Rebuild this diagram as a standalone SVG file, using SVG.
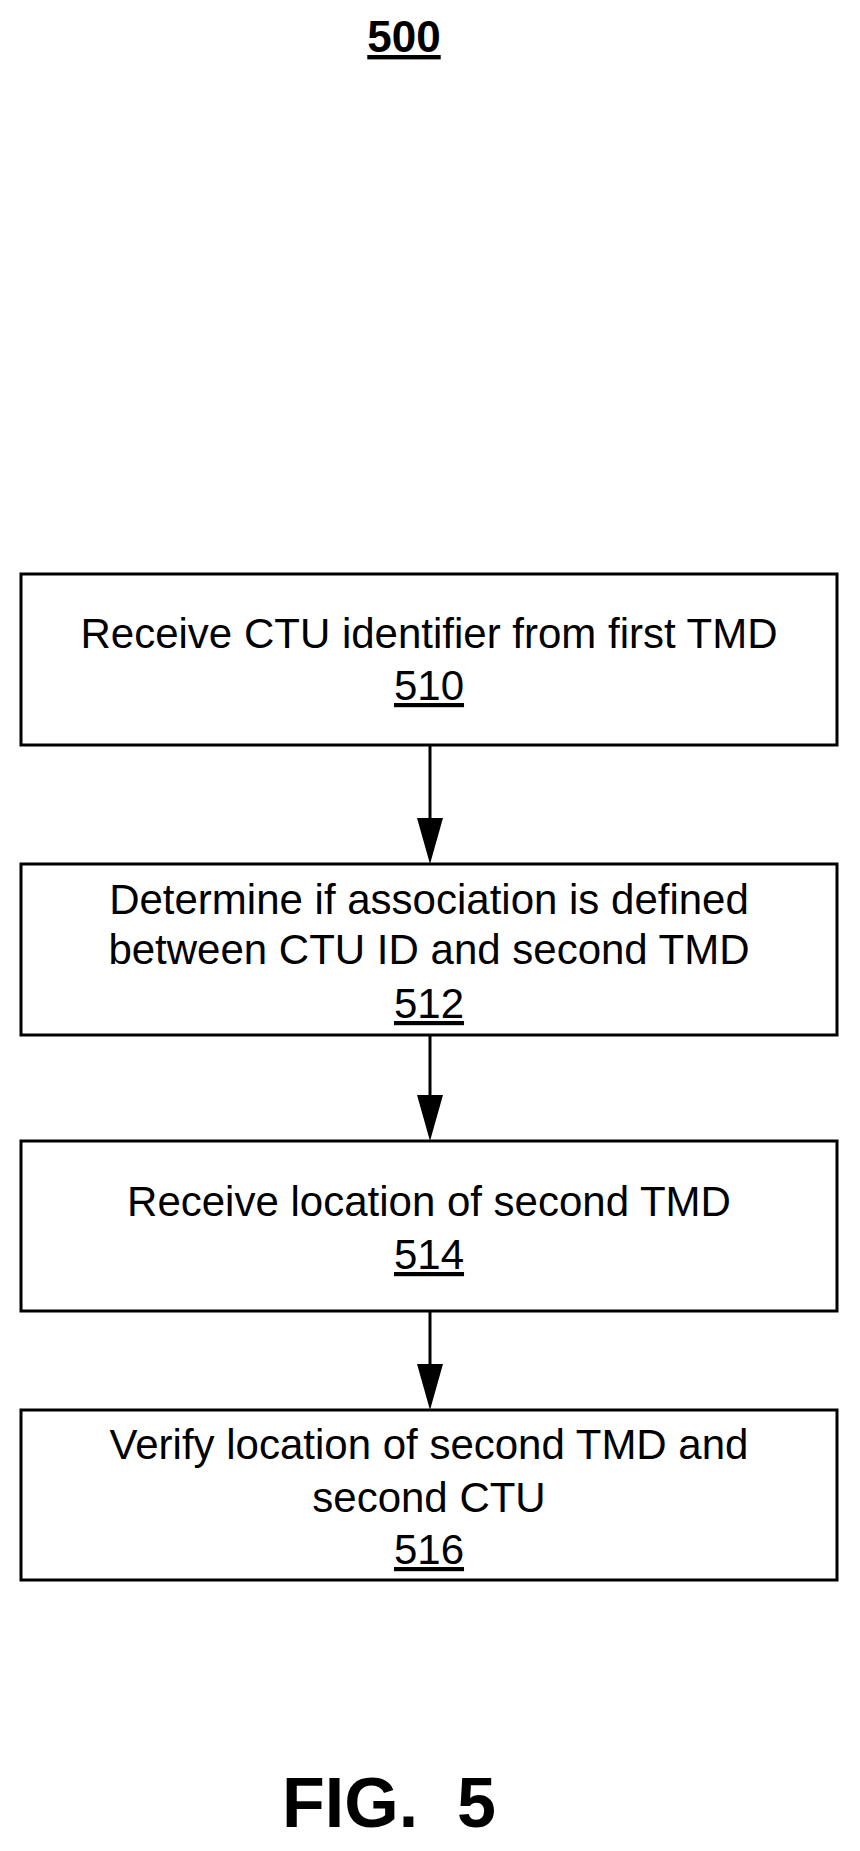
<svg xmlns="http://www.w3.org/2000/svg" width="860" height="1851" viewBox="0 0 860 1851">
<style>
.box{fill:#fff;stroke:#000;stroke-width:3}
text{font-family:"Liberation Sans",Arial,sans-serif;font-size:42px;text-anchor:middle;fill:#000}
.u{text-decoration:underline}
.line{stroke:#000;stroke-width:3}
</style>
<text x="404" y="52" class="u" style="font-weight:bold;font-size:44px">500</text>
<g id="n510"><rect class="box" x="21" y="574" width="816" height="171"/><text x="429" y="648">Receive CTU identifier from first TMD</text><text x="429" y="700" class="u">510</text></g>
<g id="n512"><rect class="box" x="21" y="864" width="816" height="171"/><text x="429" y="914">Determine if association is defined</text><text x="429" y="964">between CTU ID and second TMD</text><text x="429" y="1018" class="u">512</text></g>
<g id="n514"><rect class="box" x="21" y="1141" width="816" height="170"/><text x="429" y="1216">Receive location of second TMD</text><text x="429" y="1269" class="u">514</text></g>
<g id="n516"><rect class="box" x="21" y="1410" width="816" height="170"/><text x="429" y="1459">Verify location of second TMD and</text><text x="429" y="1512">second CTU</text><text x="429" y="1564" class="u">516</text></g>
<g id="connectors">
<line class="line" x1="430" y1="745" x2="430" y2="820"/><path d="M417,818 L443,818 L430,864 Z"/>
<line class="line" x1="430" y1="1035" x2="430" y2="1097"/><path d="M417,1095 L443,1095 L430,1141 Z"/>
<line class="line" x1="430" y1="1311" x2="430" y2="1366"/><path d="M417,1364 L443,1364 L430,1410 Z"/>
</g>
<text x="389" y="1827" xml:space="preserve" style="font-weight:bold;font-size:70px">FIG.  5</text>
</svg>
